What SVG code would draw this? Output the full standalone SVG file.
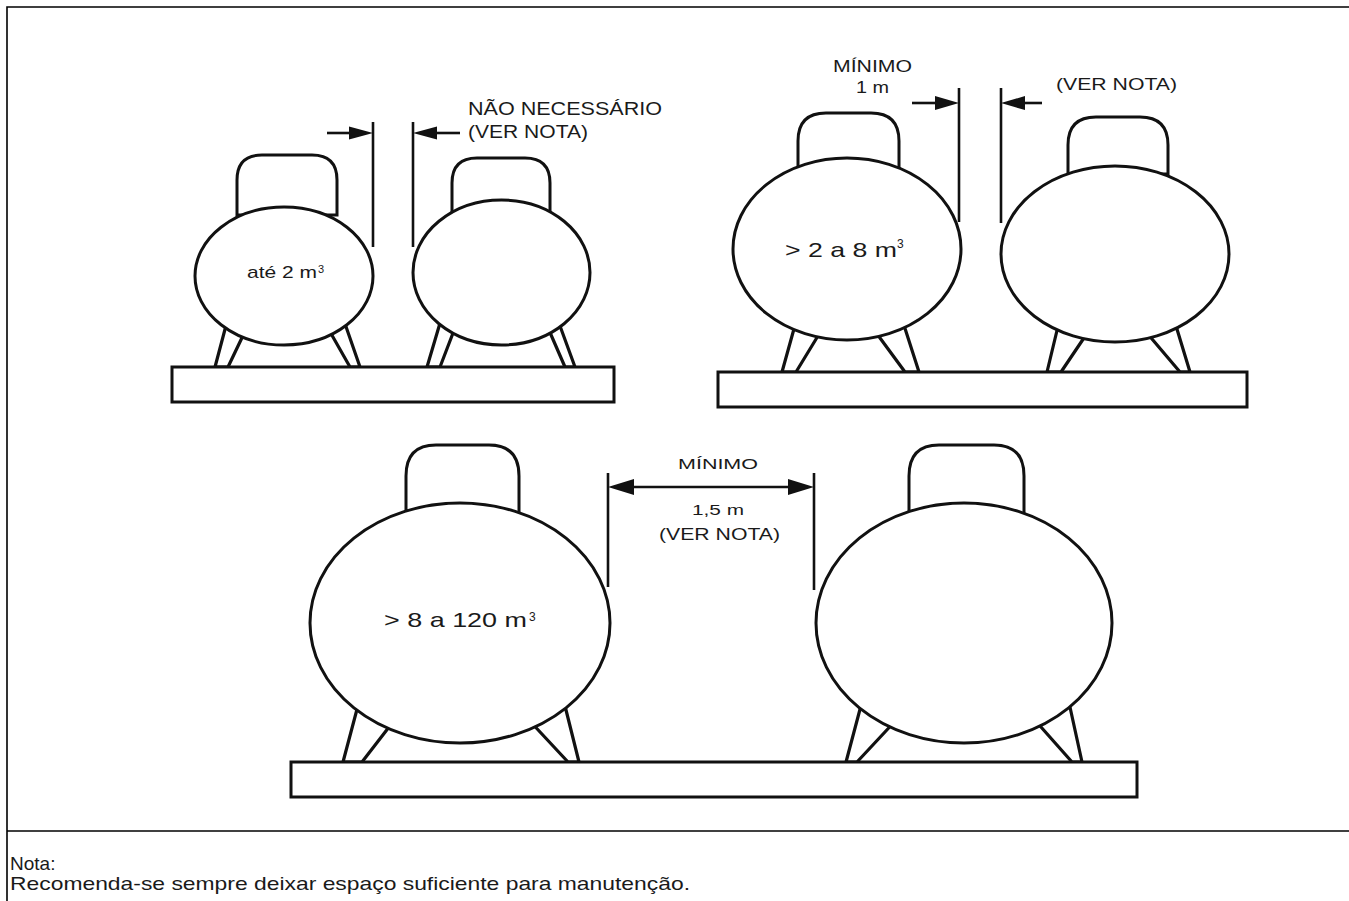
<svg xmlns="http://www.w3.org/2000/svg" width="1349" height="901" viewBox="0 0 1349 901">
<style>
.ln{fill:none;stroke:#111;stroke-width:2.6}
.sh{fill:#fff;stroke:#111;stroke-width:3}
.leg{fill:#fff;stroke:#111;stroke-width:3.2;stroke-linejoin:round}
.ah{fill:#111}
.t{font-family:"Liberation Sans",Arial,sans-serif;fill:#1a1a1a}
.fr{fill:none;stroke:#000;stroke-width:1.6}
</style>
<rect x="0" y="0" width="1349" height="901" fill="#fff"/>
<g id="frame">
<path class="fr" d="M7,901 V7 H1349"/>
<path class="fr" d="M7,831 H1349"/>
</g>

<g id="group-small">
<g id="tank-small-1">
<polygon class="leg" points="228,318 215,367 228,367 249,323"/>
<polygon class="leg" points="343,318 360,367 350,367 325,323"/>
<path class="sh" d="M237,215 V180 Q237,155 262,155 H312 Q337,155 337,180 V215 Z"/>
<ellipse class="sh" cx="284" cy="276" rx="89" ry="69"/>
<text class="t" x="247" y="278" font-size="17" textLength="70" lengthAdjust="spacingAndGlyphs">até 2 m</text>
<text class="t" x="318" y="273" font-size="11">3</text>
</g>
<g id="tank-small-2">
<polygon class="leg" points="443,313 427,367 440,367 458,320"/>
<polygon class="leg" points="556,315 575,367 565,367 545,321"/>
<path class="sh" d="M452,212 V183 Q452,158 477,158 H525 Q550,158 550,183 V212 Z"/>
<ellipse class="sh" cx="501.5" cy="272.5" rx="88.5" ry="72.5"/>
</g>
<rect id="base-small" class="sh" x="172" y="367" width="442" height="35"/>
</g>

<g id="group-medium">
<g id="tank-medium-1">
<polygon class="leg" points="797,318 782,372 796,372 824,326"/>
<polygon class="leg" points="901,316 919,372 905,372 869,323"/>
<path class="sh" d="M798,172 V141 Q798,113 826,113 H871 Q899,113 899,141 V172 Z"/>
<ellipse class="sh" cx="847" cy="249" rx="114" ry="91"/>
<text class="t" x="785" y="257" font-size="21" textLength="112" lengthAdjust="spacingAndGlyphs">&gt; 2 a 8 m</text>
<text class="t" x="897" y="248" font-size="12">3</text>
</g>
<g id="tank-medium-2">
<polygon class="leg" points="1060,318 1047,372 1061,372 1092,326"/>
<polygon class="leg" points="1173,316 1190,372 1180,372 1141,326"/>
<path class="sh" d="M1068,174 V145 Q1068,117 1096,117 H1140 Q1168,117 1168,145 V174 Z"/>
<ellipse class="sh" cx="1115" cy="254" rx="114" ry="88"/>
</g>
<rect id="base-medium" class="sh" x="718" y="372" width="529" height="35"/>
</g>

<g id="group-large">
<g id="tank-large-1">
<polygon class="leg" points="360,698 343,762 362,762 396,718"/>
<polygon class="leg" points="563,698 579,762 568,762 527,718"/>
<path class="sh" d="M406,515 V476 Q406,445 436,445 H489 Q519,445 519,476 V515 Z"/>
<ellipse class="sh" cx="460" cy="623" rx="150" ry="120"/>
<text class="t" x="384" y="627" font-size="21" textLength="143" lengthAdjust="spacingAndGlyphs">&gt; 8 a 120 m</text>
<text class="t" x="529" y="621" font-size="12">3</text>
</g>
<g id="tank-large-2">
<polygon class="leg" points="863,698 846,762 857,762 898,718"/>
<polygon class="leg" points="1068,698 1082,762 1072,762 1033,718"/>
<path class="sh" d="M909,517 V476 Q909,445 939,445 H994 Q1024,445 1024,476 V517 Z"/>
<ellipse class="sh" cx="964" cy="623" rx="148" ry="120"/>
</g>
<rect id="base-large" class="sh" x="291" y="762" width="846" height="35"/>
</g>

<g id="connectors">
<line class="ln" x1="373" y1="122" x2="373" y2="247"/>
<line class="ln" x1="413" y1="122" x2="413" y2="247"/>
<line class="ln" x1="327" y1="133" x2="355" y2="133"/>
<polygon class="ah" points="373,133 349,126.5 349,139.5"/>
<line class="ln" x1="433" y1="133" x2="460" y2="133"/>
<polygon class="ah" points="413,133 437,126.5 437,139.5"/>

<line class="ln" x1="959" y1="88" x2="959" y2="222"/>
<line class="ln" x1="1001" y1="88" x2="1001" y2="223"/>
<line class="ln" x1="912" y1="103" x2="940" y2="103"/>
<polygon class="ah" points="959,103 935,96 935,110"/>
<line class="ln" x1="1020" y1="103" x2="1042" y2="103"/>
<polygon class="ah" points="1001,103 1025,96 1025,110"/>

<line class="ln" x1="608" y1="473" x2="608" y2="587"/>
<line class="ln" x1="814" y1="473" x2="814" y2="590"/>
<line class="ln" x1="630" y1="487" x2="792" y2="487"/>
<polygon class="ah" points="608,487 634,479 634,495"/>
<polygon class="ah" points="814,487 788,479 788,495"/>
</g>

<g id="labels">
<text class="t" x="468" y="115" font-size="18" textLength="194" lengthAdjust="spacingAndGlyphs">NÃO NECESSÁRIO</text>
<text class="t" x="468" y="138" font-size="18" textLength="120" lengthAdjust="spacingAndGlyphs">(VER NOTA)</text>
<text class="t" x="833" y="72" font-size="16" textLength="79" lengthAdjust="spacingAndGlyphs">MÍNIMO</text>
<text class="t" x="856" y="93" font-size="16" textLength="33" lengthAdjust="spacingAndGlyphs">1 m</text>
<text class="t" x="1056" y="90" font-size="16" textLength="121" lengthAdjust="spacingAndGlyphs">(VER NOTA)</text>
<text class="t" x="678" y="469" font-size="15" textLength="80" lengthAdjust="spacingAndGlyphs">MÍNIMO</text>
<text class="t" x="692" y="515" font-size="15" textLength="52" lengthAdjust="spacingAndGlyphs">1,5 m</text>
<text class="t" x="659" y="540" font-size="16" textLength="121" lengthAdjust="spacingAndGlyphs">(VER NOTA)</text>
</g>

<g id="note">
<text class="t" x="10" y="870" font-size="19">Nota:</text>
<text class="t" x="10" y="890" font-size="19" textLength="680" lengthAdjust="spacingAndGlyphs">Recomenda-se sempre deixar espaço suficiente para manutenção.</text>
</g>
</svg>
